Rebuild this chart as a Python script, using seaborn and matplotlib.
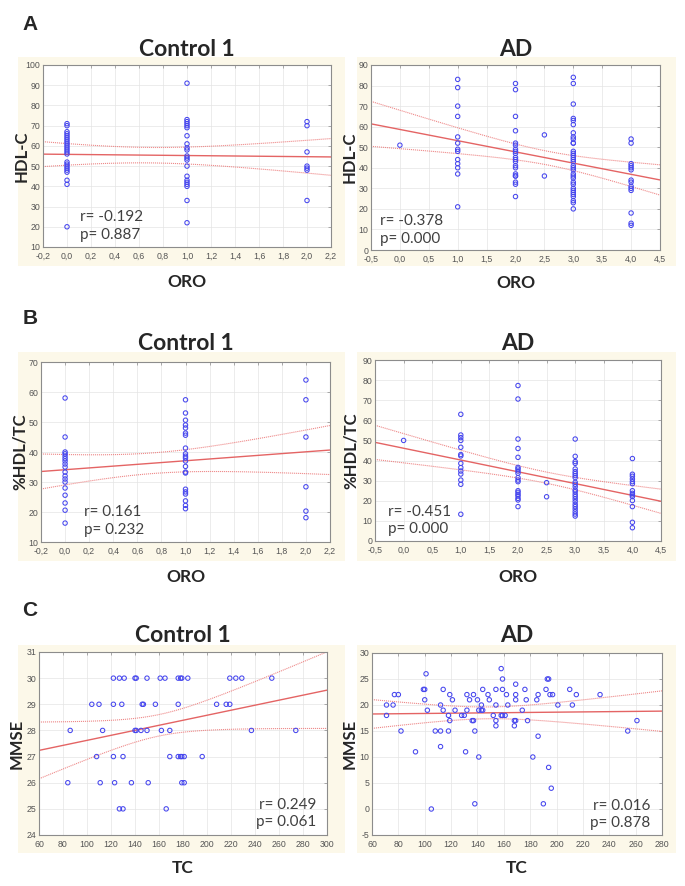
import numpy as np
import matplotlib
matplotlib.use("Agg")
import matplotlib.pyplot as plt
import seaborn as sns
from matplotlib.patches import Rectangle
from matplotlib.ticker import FuncFormatter, MultipleLocator

# ---- data ----
ORO_CTRL = [0, 1, 2]
ORO_AD = [0, 1, 2, 2.5, 3, 4]

# HDL-C per ORO group
HDL_CTRL = [
    [71, 70, 67, 66, 65, 64, 63, 62, 61, 60, 59, 58, 57, 56, 52, 51, 50, 49, 48, 47, 43, 41, 20],
    [91, 73, 72, 71, 70, 69, 65, 61, 59, 58, 55, 54, 53, 50, 45, 43, 42, 41, 40, 33, 22],
    [72, 70, 57, 50, 49, 48, 33],
]
HDL_AD = [
    [51],
    [83, 79, 70, 65, 55, 52, 49, 48, 44, 42, 40, 37, 21],
    [81, 78, 65, 58, 52, 51, 49, 48, 47, 45, 44, 43, 41, 40, 37, 36, 36, 33, 32, 26],
    [56, 36],
    [84, 81, 71, 64, 63, 61, 57, 55, 54, 52, 52, 48, 47, 46, 45, 44, 43, 41, 40, 39,
     37, 36, 35, 33, 32, 30, 29, 28, 27, 26, 24, 23, 20],
    [54, 52, 42, 41, 40, 39, 34, 33, 31, 30, 29, 18, 13, 12],
]

# %HDL/TC per ORO group
PCT_CTRL = [
    [58, 45, 40, 39.4, 38.6, 37.8, 37, 36, 35, 33.3, 32, 31, 30, 28, 25.6, 23, 20.6, 16.3],
    [57.4, 53, 50.6, 49, 48, 46.3, 45.6, 41.3, 39.4, 38.6, 38, 37, 35.2, 33.3, 33, 27.6,
     26.7, 26, 23.7, 22.2, 21.1],
    [64, 57.4, 45, 28.4, 20.3, 18.1],
]
PCT_AD = [
    [50],
    [63, 52.7, 51.4, 50, 46.6, 43, 42.3, 38.6, 36.5, 34.8, 33.3, 30.3, 28.2, 13.3],
    [77.3, 70.6, 50.7, 46, 41.6, 36.6, 35.8, 34.8, 33.7, 31.5, 30.3, 29.5, 25, 24.2, 23.2,
     22.4, 21.2, 20.4, 17.1],
    [29, 22],
    [50.7, 42.1, 39.5, 38.6, 35.8, 34.5, 33.5, 32.5, 31.5, 29.2, 28.2, 27, 25.4, 24.5, 23.2,
     22.1, 20.9, 19.6, 18.2, 17.1, 15.9, 14.6, 13.4, 12.4],
    [41, 33.2, 32.2, 30.8, 29.5, 28.5, 25, 23.7, 22.9, 22.1, 20.1, 17.1, 9.3, 6.6],
]

# Control 1: TC values per MMSE score
MMSE_CTRL_LEVELS = [30, 29, 28, 27, 26, 25]
TC_CTRL = [
    [122, 127, 131, 140, 141, 150, 161, 165, 176, 178, 179, 184, 219, 224, 229, 254],
    [104, 110, 122, 129, 146, 147, 157, 176, 208, 216, 219],
    [86, 113, 140, 141, 145, 150, 162, 169, 237, 274],
    [108, 122, 130, 169, 176, 178, 179, 181, 196],
    [84, 111, 123, 137, 151, 179, 181],
    [127, 130, 166],
]

# AD: TC / MMSE pairs
TC_AD = [71, 71, 76, 77, 80, 82, 93, 99, 100, 100, 101, 102, 105, 108, 112, 112, 112, 114,
         114, 118, 118, 119, 119, 121, 123, 128, 130, 131, 132, 132, 134, 136, 137, 137, 138,
         138, 140, 141, 141, 143, 143, 144, 144, 148, 149, 152, 154, 154, 154, 154, 158, 159,
         159, 158, 159, 161, 162, 163, 168, 168, 169, 169, 169, 169, 174, 176, 177, 178, 182,
         185, 186, 186, 190, 192, 193, 194, 194, 195, 196, 197, 201, 210, 212, 215, 233, 254, 261]
MMSE_AD = [20, 18, 20, 22, 22, 15, 11, 23, 23, 21, 26, 19, 0, 15, 20, 15, 12, 23,
           19, 18, 15, 22, 17, 21, 19, 18, 18, 11, 22, 19, 21, 17, 22, 17, 15,
           1, 21, 10, 19, 20, 19, 23, 19, 22, 21, 18, 23, 20, 17, 16, 27, 25,
           23, 18, 18, 18, 22, 20, 16, 17, 24, 22, 21, 17, 19, 23, 21, 17, 10,
           21, 22, 14, 1, 23, 25, 25, 8, 22, 4, 22, 20, 23, 20, 22, 22, 15, 17]

STATS = [("-0.192", "0.887"), ("-0.378", "0.000"),
         ("0.161", "0.232"), ("-0.451", "0.000"),
         ("0.249", "0.061"), ("0.016", "0.878")]

# ---- style ----
W, H = 685, 886
CREAM = "#FCF8E9"
PT = "#4646EE"
LINE = "#E46464"
BAND = "#EE8A8A"
TXT = "Lato"

sns.set_style("white")


def grouped(levels, groups):
    x = np.repeat(levels, [len(g) for g in groups]).astype(float)
    y = np.concatenate([np.asarray(g, float) for g in groups])
    return x, y


def fit_band(x, y, grid, t=1.99):
    n = len(x)
    b, a = np.polyfit(x, y, 1)
    resid = y - (a + b * x)
    s = np.sqrt(np.sum(resid ** 2) / (n - 2))
    sxx = np.sum((x - x.mean()) ** 2)
    yhat = a + b * grid
    se = s * np.sqrt(1.0 / n + (grid - x.mean()) ** 2 / sxx)
    return yhat - t * se, yhat + t * se


fig = plt.figure(figsize=(W / 100, H / 100), dpi=100)
fig.patch.set_facecolor("white")


def px_axes(l, t, r, b):
    return fig.add_axes([l / W, 1 - b / H, (r - l) / W, (b - t) / H])


def cream(l, t, r, b):
    fig.patches.append(Rectangle((l / W, 1 - b / H), (r - l) / W, (b - t) / H,
                                 transform=fig.transFigure, facecolor=CREAM,
                                 edgecolor="none", zorder=-5))


def draw_panel(ax, x, y, xlim, ylim, xstep, ystep, xdec, stats, tx, ty, ha):
    ax.set_xlim(xlim)
    ax.set_ylim(ylim)
    sns.regplot(x=x, y=y, ax=ax, ci=None, truncate=False,
                scatter_kws=dict(s=10, facecolors="none", edgecolors=PT,
                                 linewidths=0.75, alpha=1, zorder=3),
                line_kws=dict(color=LINE, lw=1.0, zorder=2))
    grid = np.linspace(xlim[0], xlim[1], 200)
    lo, hi = fit_band(x, y, grid)
    for band in (lo, hi):
        ax.plot(grid, band, color=BAND, lw=0.8, ls=(0, (1, 0.8)), zorder=2)
    ax.set_xlim(xlim)
    ax.set_ylim(ylim)
    ax.xaxis.set_major_locator(MultipleLocator(xstep))
    ax.yaxis.set_major_locator(MultipleLocator(ystep))
    if xdec:
        ax.xaxis.set_major_formatter(FuncFormatter(lambda v, p: f"{v:.1f}".replace(".", ",")))
    else:
        ax.xaxis.set_major_formatter(FuncFormatter(lambda v, p: f"{v:.0f}"))
    ax.yaxis.set_major_formatter(FuncFormatter(lambda v, p: f"{v:.0f}"))
    ax.grid(True, color="#E4E4E4", lw=0.5)
    ax.set_axisbelow(True)
    for sp in ax.spines.values():
        sp.set_color("#8C8C8C")
        sp.set_linewidth(0.8)
    ax.tick_params(direction="in", length=2.5, width=0.5, color="#8C8C8C",
                   labelcolor="#555555", labelsize=6.3, top=True, right=True, pad=2)
    ax.tick_params(axis="x", pad=3.5)
    for lab in ax.get_xticklabels() + ax.get_yticklabels():
        lab.set_family("Liberation Sans")
    ax.set_xlabel("")
    ax.set_ylabel("")
    ax.text(tx, ty[0], f"r= {stats[0]}", transform=ax.transAxes, ha=ha, va="center",
            fontsize=11, color="#404040", family=TXT)
    ax.text(tx, ty[1], f"p= {stats[1]}", transform=ax.transAxes, ha=ha, va="center",
            fontsize=11, color="#404040", family=TXT)


# layout in pixels: (left, top, right, bottom)
rects = [
    (43, 65, 331, 247), (371, 65, 660, 250),
    (41, 362, 330, 542), (375, 360, 661, 541),
    (39, 652, 327, 835), (372, 653, 662, 835),
]
creams = [
    (18, 57, 345, 266), (357, 57, 676, 266),
    (18, 352, 345, 561), (357, 352, 676, 561),
    (18, 645, 345, 853), (357, 645, 676, 853),
]
for c in creams:
    cream(*c)

axes = [px_axes(*r) for r in rects]

x, y = grouped(ORO_CTRL, HDL_CTRL)
draw_panel(axes[0], x, y, (-0.2, 2.2), (10, 100), 0.2, 10, True, STATS[0],
           0.128, (0.165, 0.066), "left")
x, y = grouped(ORO_AD, HDL_AD)
draw_panel(axes[1], x, y, (-0.5, 4.5), (0, 90), 0.5, 10, True, STATS[1],
           0.031, (0.158, 0.061), "left")
x, y = grouped(ORO_CTRL, PCT_CTRL)
draw_panel(axes[2], x, y, (-0.2, 2.2), (10, 70), 0.2, 10, True, STATS[2],
           0.15, (0.167, 0.069), "left")
x, y = grouped(ORO_AD, PCT_AD)
draw_panel(axes[3], x, y, (-0.5, 4.5), (0, 90), 0.5, 10, True, STATS[3],
           0.047, (0.162, 0.066), "left")
yv, xv = grouped(MMSE_CTRL_LEVELS, TC_CTRL)
draw_panel(axes[4], xv, yv, (60, 300), (24, 31), 20, 1, False, STATS[4],
           0.964, (0.162, 0.069), "right")
draw_panel(axes[5], np.asarray(TC_AD, float), np.asarray(MMSE_AD, float), (60, 280), (-5, 30),
           20, 5, False, STATS[5], 0.96, (0.161, 0.064), "right")

# text labels
titles = ["Control 1", "AD"] * 3
ylabels = ["HDL-C", "HDL-C", "%HDL/TC", "%HDL/TC", "MMSE", "MMSE"]
xlabels = ["ORO", "ORO", "ORO", "ORO", "TC", "TC"]
title_y = [50, 50, 344, 344, 636, 636]
xlab_y = [282, 283, 577, 577, 868, 868]
ylab_x = [22, 350, 20, 351, 17, 350]
for i, (l, t, r, b) in enumerate(rects):
    cx = (l + r) / 2
    cy = (t + b) / 2
    fig.text(cx / W, 1 - title_y[i] / H, titles[i], ha="center", va="center",
             fontsize=16.5, fontweight="bold", family=TXT)
    fig.text(cx / W, 1 - xlab_y[i] / H, xlabels[i], ha="center", va="center",
             fontsize=12.5, fontweight="bold", family=TXT)
    fig.text(ylab_x[i] / W, 1 - cy / H, ylabels[i], ha="center", va="center",
             rotation=90, fontsize=12, fontweight="bold", family=TXT)

for letter, ly in zip(["A", "B", "C"], [24, 318, 610]):
    fig.text(30 / W, 1 - ly / H, letter, ha="center", va="center",
             fontsize=15, fontweight="bold", family="Liberation Sans")

fig.savefig("out.png", dpi=100, facecolor="white")
